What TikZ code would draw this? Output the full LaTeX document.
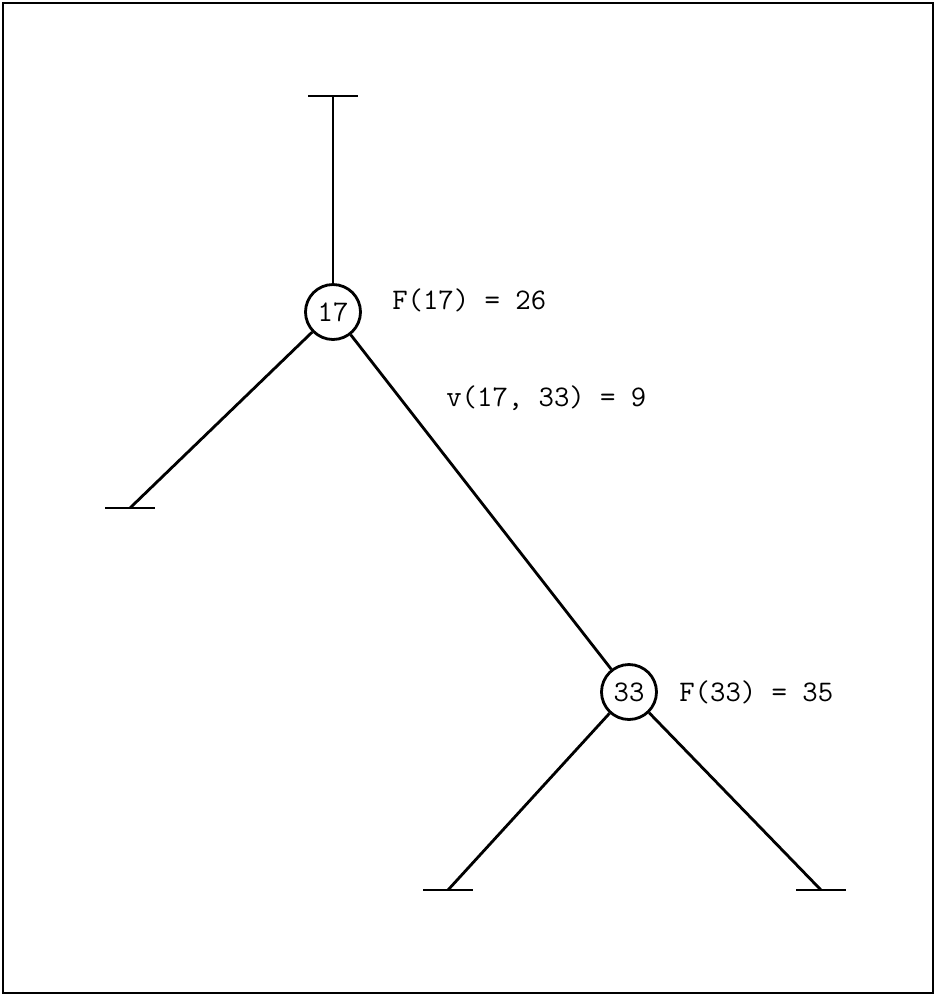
\documentclass[tikz,border=0pt]{standalone}
\usepackage{tikz}
\usetikzlibrary{positioning,calc}

\begin{document}
\begin{tikzpicture}[
  x=0.02cm, y=-0.02cm,
  font=\ttfamily\fontsize{17}{20}\selectfont,
  vertex/.style={draw, circle, line width=1.6pt, minimum size=1.1cm, inner sep=0pt},
  edge/.style={line width=1.6pt},
  lbl/.style={anchor=west, inner sep=0pt}
]
% frame
\draw[line width=1.2pt] (3,3) rectangle (933,993);
\useasboundingbox (0,0) rectangle (936,995);
% nodes
\node[vertex] (n17) at (333,312) {17};
\node[vertex] (n33) at (629,692) {33};
\coordinate (root) at (333,96);
\coordinate (leafA) at (130,508);
\coordinate (leafB) at (448,890);
\coordinate (leafC) at (821,890);
% connectors
\draw[edge] (root) -- (n17);
\draw[edge] (n17) -- (leafA);
\draw[edge] (n17) -- (n33);
\draw[edge] (n33) -- (leafB);
\draw[edge] (n33) -- (leafC);
% leaf bars
\foreach \p in {root,leafA,leafB,leafC}
  \draw[edge] ($(\p)+(-25,0)$) -- ($(\p)+(25,0)$);
% labels
\node[lbl] (f17) at (392,300) {F(17) = 26};
\node[lbl] (v1733) at (446,398) {v(17, 33) = 9};
\node[lbl] (f33) at (679,692) {F(33) = 35};
\end{tikzpicture}
\end{document}
